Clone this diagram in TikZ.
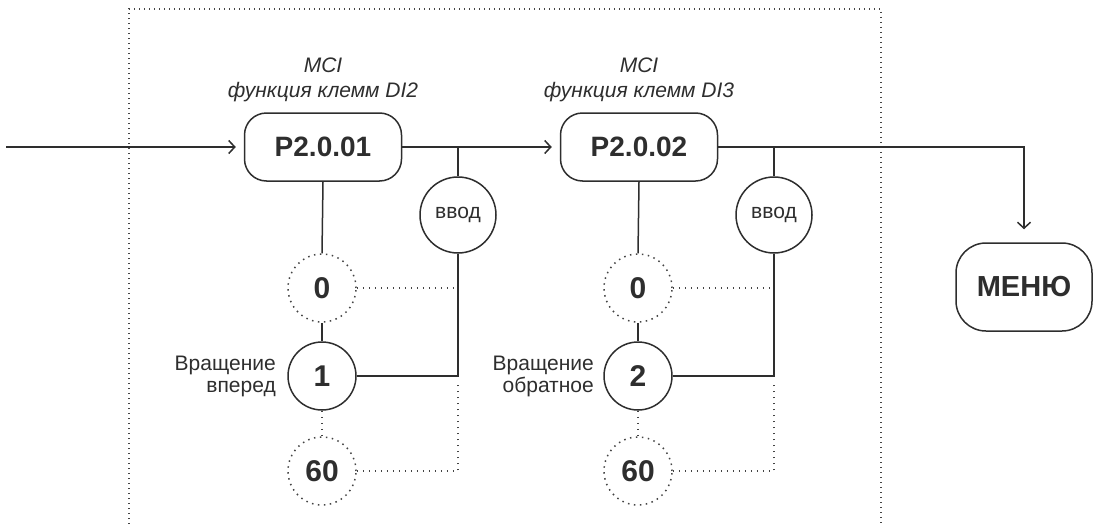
\documentclass[tikz,border=0pt]{standalone}
\usepackage{fontspec}
\setmainfont{Liberation Sans}
\usetikzlibrary{arrows.meta,calc}
\definecolor{ink}{HTML}{2E2E2E}
\definecolor{dotc}{HTML}{444444}
\tikzset{
  ln/.style={draw=ink,line width=1.5pt},
  dotln/.style={draw=dotc,line width=1.5pt,dash pattern=on 1.5pt off 4.5pt},
  arr/.style={ln,-{Straight Barb[length=6pt,width=13pt,line width=1.5pt]},shorten >=8pt},
  parbox/.style={ln,rounded corners=22pt,minimum width=157pt,minimum height=68pt,inner sep=0pt,
     text=ink,font=\fontsize{28}{30}\selectfont\bfseries},
  menubox/.style={ln,rounded corners=30pt,minimum width=136pt,minimum height=88pt,inner sep=0pt,
     text=ink,font=\fontsize{29}{31}\selectfont\bfseries},
  valc/.style={ln,circle,minimum size=68pt,inner sep=0pt,text=ink,font=\fontsize{30}{32}\selectfont\bfseries},
  valdot/.style={dotln,circle,minimum size=68pt,inner sep=0pt,text=ink,font=\fontsize{30}{32}\selectfont\bfseries},
  vvodc/.style={ln,circle,minimum size=76pt,inner sep=0pt,text=ink,font=\fontsize{21}{23}\selectfont},
  ttl/.style={text=ink,align=center,font=\fontsize{21}{25}\selectfont\itshape},
  side/.style={text=ink,align=right,anchor=east,inner sep=0pt,font=\fontsize{21}{22}\selectfont},
}
\begin{document}
\begin{tikzpicture}[x=1pt,y=-1pt]
\useasboundingbox (0,0) rectangle (1094,530);
% frame
\draw[dotln,line width=1.3pt,dash pattern=on 1.3pt off 3.7pt] (129,524) -- (129,9) -- (881,9) -- (881,524);

% group 1
\node[parbox] (box1) at (323,147) {P2.0.01};
\node[ttl] (t1) at (323,80) {MCI\\функция клемм DI2};
\node[vvodc] (vvod1) at (458,215) {ввод};
\node[valdot] (z1) at (322,288) {0};
\node[valc] (one) at (322,376) {1};
\node[valdot] (s1) at (322,471) {60};
\node[side] (l1) at (276,376) {Вращение\\вперед};

% group 2
\node[parbox] (box2) at (639,147) {P2.0.02};
\node[ttl] (t2) at (639,80) {MCI\\функция клемм DI3};
\node[vvodc] (vvod2) at (774,215) {ввод};
\node[valdot] (z2) at (638,288) {0};
\node[valc] (two) at (638,376) {2};
\node[valdot] (s2) at (638,471) {60};
\node[side] (l2) at (594,376) {Вращение\\обратное};

% menu
\node[menubox] (menu) at (1024,287) {МЕНЮ};

% connectors
\coordinate (in) at (6,147);
\draw[arr] (in) -- (box1.west);
\draw[arr] (box1.east) -- (box2.west);
\draw[arr,shorten >=13pt] (box2.east) -| (menu.north);

\draw[ln] (vvod1.north) -- (vvod1.north |- box1.east);
\draw[ln] (box1.south) -- (z1.north);
\draw[ln] (z1.south) -- (one.north);
\draw[dotln] (one.south) -- (s1.north);
\draw[ln] (one.east) -| (vvod1.south);
\draw[dotln] (z1.east) -- (z1.east -| vvod1.south);
\coordinate (r1) at (458,384);
\draw[dotln] (s1.east) -| (r1);

\draw[ln] (vvod2.north) -- (vvod2.north |- box2.east);
\draw[ln] (box2.south) -- (z2.north);
\draw[ln] (z2.south) -- (two.north);
\draw[dotln] (two.south) -- (s2.north);
\draw[ln] (two.east) -| (vvod2.south);
\draw[dotln] (z2.east) -- (z2.east -| vvod2.south);
\coordinate (r2) at (774,384);
\draw[dotln] (s2.east) -| (r2);
\end{tikzpicture}
\end{document}
